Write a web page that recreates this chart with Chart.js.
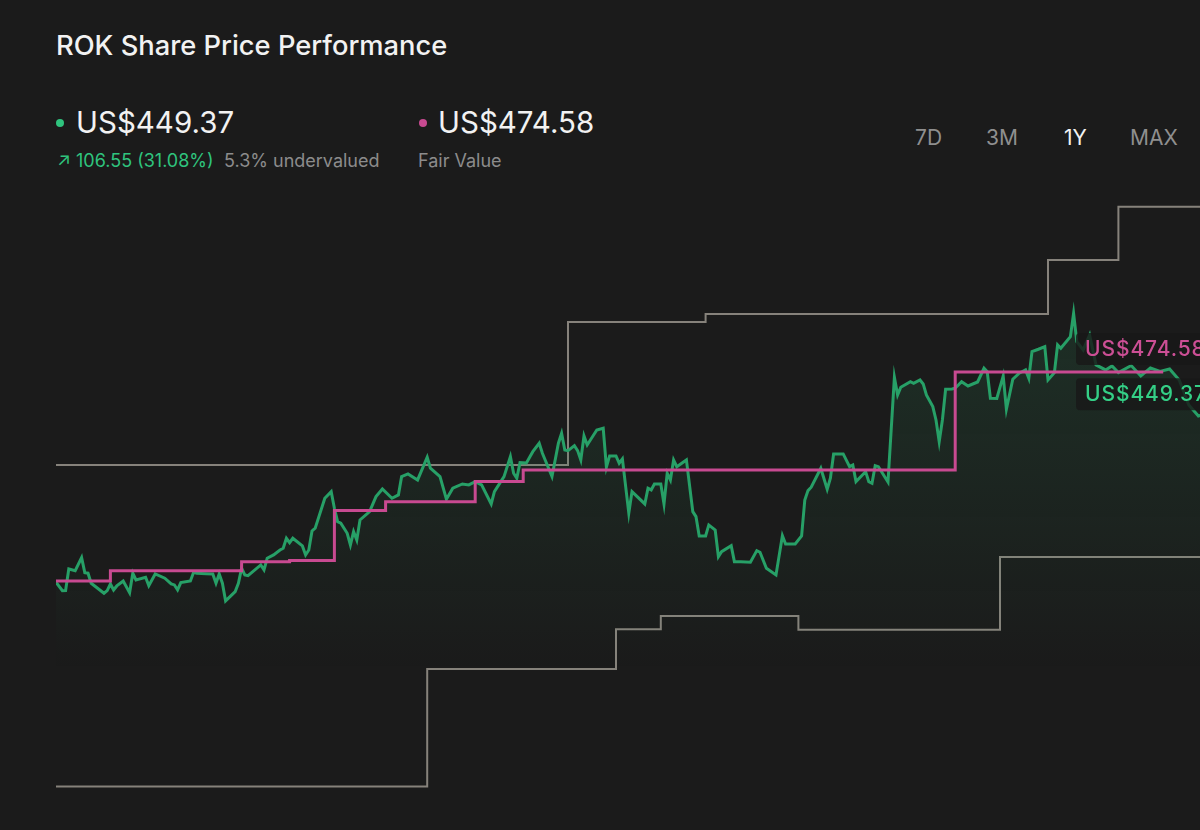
<!DOCTYPE html>
<html>
<head>
<meta charset="utf-8">
<script src="https://cdn.jsdelivr.net/npm/chart.js@4/dist/chart.umd.min.js"></script>
<style>
  html, body { margin: 0; padding: 0; background: #1b1b1b; overflow: hidden; width: 1200px; height: 830px; }
  body { font-family: Inter, "Noto Sans", sans-serif; position: relative; }
  .t { position: absolute; white-space: nowrap; line-height: 1; }
  #title { left: 56px; top: 32px; font-size: 27.3px; color: #f2f2f2; font-weight: 500; }
  .big { top: 108px; font-size: 29.5px; color: #f2f2f2; }
  .sub { top: 152px; font-size: 18px; color: #8c8c8c; }
  .dot { position: absolute; width: 8px; height: 8px; border-radius: 50%; top: 119px; }
  .btn { top: 127px; font-size: 21px; color: #8f8f8f; }
  #cvs { position: absolute; left: 56px; top: 170px; }
</style>
</head>
<body>
<div class="t" id="title">ROK Share Price Performance</div>

<div class="dot" style="left:56px;background:#2fc47e"></div>
<div class="t big" style="left:76px">US$449.37</div>
<div class="t sub" style="left:57px;color:#2fc47e">&#8599; 106.55 (31.08%)</div>
<div class="t sub" style="left:224px">5.3% undervalued</div>

<div class="dot" style="left:419px;background:#c84a91"></div>
<div class="t big" style="left:438px">US$474.58</div>
<div class="t sub" style="left:418px">Fair Value</div>

<div class="t btn" style="left:915px">7D</div>
<div class="t btn" style="left:986px">3M</div>
<div class="t btn" style="left:1064px;color:#f2f2f2">1Y</div>
<div class="t btn" style="left:1130px">MAX</div>

<canvas id="cvs" width="1168" height="630"></canvas>

<script>
// dias desde o início do período (1 ano) e preço de fechamento
const days = [0, 2, 3, 4, 6, 8, 9, 10, 11, 13, 15, 16, 17, 18, 19, 21, 23, 24, 25, 28,
  29, 31, 34, 36, 37, 38, 39, 42, 43, 44, 47, 49, 50, 51, 52, 53, 56, 57, 58, 59,
  60, 64, 65, 66, 68, 70, 71, 72, 73, 74, 77, 78, 79, 80, 81, 84, 86, 87, 88, 89,
  91, 92, 93, 94, 95, 98, 100, 102, 105, 107, 108, 110, 113, 116, 117, 120, 122, 124, 127, 129,
  131, 133, 136, 137, 140, 142, 143, 144, 145, 147, 149, 151, 152, 155, 157, 158, 159, 160, 162, 163,
  164, 165, 166, 169, 171, 172, 173, 175, 176, 177, 179, 180, 184, 185, 186, 187, 189, 190, 191, 192,
  193, 194, 197, 199, 200, 201, 203, 204, 206, 207, 208, 211, 212, 214, 217, 219, 220, 222, 225, 227,
  228, 231, 233, 234, 235, 236, 239, 241, 242, 243, 246, 248, 249, 250, 252, 253, 254, 255, 256, 257,
  260, 262, 263, 264, 267, 268, 270, 271, 272, 274, 275, 276, 277, 278, 280, 281, 283, 285, 288, 290,
  291, 292, 294, 296, 297, 299, 301, 303, 304, 305, 307, 309, 310, 312, 313, 314, 317, 318, 319, 321,
  323, 325, 328, 330, 332, 336, 339, 342, 345, 348, 351, 354, 357, 361];

const price = [342.82, 337.57, 337.6, 351.16, 350.1, 358.24, 348.84, 348.5, 342.2, 339.07,
  335.94, 337.57, 341.76, 338.0, 340.51, 343.64, 336.31, 348.47, 344.27, 345.96,
  340.7, 348.03, 345.33, 341.76, 341.14, 338.0, 342.58, 343.64, 349.09, 348.47,
  348.2, 348.03, 342.2, 348.03, 342.2, 331.11, 336.94, 342.2, 351.6, 347.4,
  346.96, 353.67, 350.53, 357.87, 359.93, 363.06, 364.13, 370.39, 367.64, 370.39,
  365.57, 359.93, 363.06, 374.97, 376.66, 395.45, 399.59, 389.19, 380.79, 379.79,
  373.52, 366.2, 374.53, 369.33, 381.86, 387.06, 396.46, 401.28, 395.45, 397.52,
  408.99, 410.68, 406.92, 421.14, 414.25, 408.99, 394.83, 401.72, 404.41, 403.79,
  405.85, 403.79, 391.88, 399.59, 408.99, 421.52, 411.12, 407.98, 417.76, 417.6,
  424.65, 429.91, 423.65, 408.99, 429.91, 436.18, 425.71, 425.28, 428.41, 425.28,
  419.45, 434.49, 428.85, 438.24, 439.31, 414.88, 421.96, 421.96, 417.38, 420.08,
  386.06, 399.59, 391.88, 401.72, 400.65, 404.41, 404.41, 391.88, 411.12, 406.92,
  419.45, 415.25, 419.45, 387.06, 383.93, 371.84, 371.84, 378.73, 375.59, 358.87,
  362.0, 365.76, 355.73, 355.73, 355.36, 362.63, 361.62, 351.6, 347.4, 372.02,
  366.82, 366.82, 371.84, 394.39, 400.22, 402.35, 414.25, 401.09, 407.98, 423.21,
  423.21, 415.25, 416.32, 405.85, 410.05, 412.12, 405.85, 404.85, 415.88, 415.25,
  405.67, 471.26, 460.17, 465.0, 468.5, 467.5, 469.57, 467.06, 460.17, 452.84,
  444.51, 430.91, 444.51, 463.74, 463.9, 464.37, 468.5, 465.81, 468.3, 476.9,
  474.77, 458.1, 458.0, 472.08, 451.21, 470.01, 473.77, 475.83, 470.64, 487.3,
  488.8, 490.43, 469.57, 474.14, 491.5, 489.43, 496.7, 511.35, 493.57, 488.36,
  497.76, 478.97, 475.83, 478.34, 474.2, 478.6, 472.08, 477.09, 474.9, 476.46,
  469.57, 453.91, 447.02, 449.37];

// valor justo (degraus)
const fairDays = [0, 17, 58, 73, 87, 103, 131, 146, 281, 346];
const fairValue = [343.6, 350.1, 355.7, 356.4, 387.7, 393.3, 405.9, 413.2, 474.58, 474.58];

// preço-alvo dos analistas: máximo e mínimo
const highDays = [0, 160, 203, 310, 332, 365];
const highTarget = [416.3, 505.9, 510.9, 544.7, 578.0, 578.0];
const lowDays = [0, 116, 175, 189, 232, 295, 365];
const lowTarget = [214.8, 288.5, 313.3, 321.7, 313.0, 358.7, 358.7];

const lastPrice = price[price.length - 1];
const lastFair = fairValue[fairValue.length - 1];

function pontos(xs, ys) {
  return xs.map((x, i) => ({ x: x, y: ys[i] }));
}

// caixinhas com o último preço e o valor justo no lado direito
const rotulos = {
  id: "rotulos",
  afterDatasetsDraw(chart) {
    const c = chart.ctx;
    const y = chart.scales.y;
    const itens = [
      { txt: "US$" + lastFair.toFixed(2), cor: "#cc4f95", yc: y.getPixelForValue(lastFair) - 23 },
      { txt: "US$" + lastPrice.toFixed(2), cor: "#34cf86", yc: y.getPixelForValue(lastPrice) - 18 },
    ];
    c.save();
    c.font = "500 21px Inter, sans-serif";
    c.letterSpacing = "0.9px";
    c.textBaseline = "middle";
    itens.forEach((it) => {
      c.fillStyle = "rgba(24, 24, 24, 0.82)";
      c.beginPath();
      c.roundRect(1020, it.yc - 16, 170, 32, 4);
      c.fill();
      c.fillStyle = it.cor;
      c.fillText(it.txt, 1029, it.yc + 1);
    });
    c.restore();
  },
};

new Chart(document.getElementById("cvs"), {
  type: "line",
  data: {
    datasets: [
      {
        label: "Fair Value",
        data: pontos(fairDays, fairValue),
        borderColor: "#c84a91",
        borderWidth: 3,
        stepped: true,
        fill: false,
        order: 0,
      },
      {
        label: "Price",
        data: pontos(days, price),
        borderColor: "#27a067",
        borderWidth: 3,
        borderJoinStyle: "miter",
        tension: 0,
        fill: "start",
        backgroundColor: function (context) {
          const area = context.chart.chartArea;
          if (!area) return "transparent";
          const g = context.chart.ctx.createLinearGradient(0, area.top + 160, 0, area.top + 500);
          g.addColorStop(0, "rgba(45, 150, 95, 0.16)");
          g.addColorStop(1, "rgba(45, 150, 95, 0)");
          return g;
        },
        order: 1,
      },
      {
        label: "High",
        data: pontos(highDays, highTarget),
        borderColor: "#86827b",
        borderWidth: 2,
        stepped: true,
        fill: false,
        order: 2,
      },
      {
        label: "Low",
        data: pontos(lowDays, lowTarget),
        borderColor: "#86827b",
        borderWidth: 2,
        stepped: true,
        fill: false,
        order: 2,
      },
    ],
  },
  options: {
    responsive: false,
    animation: false,
    layout: { padding: 0 },
    elements: { point: { radius: 0 } },
    plugins: { legend: { display: false }, tooltip: { enabled: false } },
    scales: {
      x: { type: "linear", min: 0, max: 365, display: false },
      y: { min: 206.4, max: 601.1, display: false },
    },
  },
  plugins: [rotulos],
});
</script>
</body>
</html>
